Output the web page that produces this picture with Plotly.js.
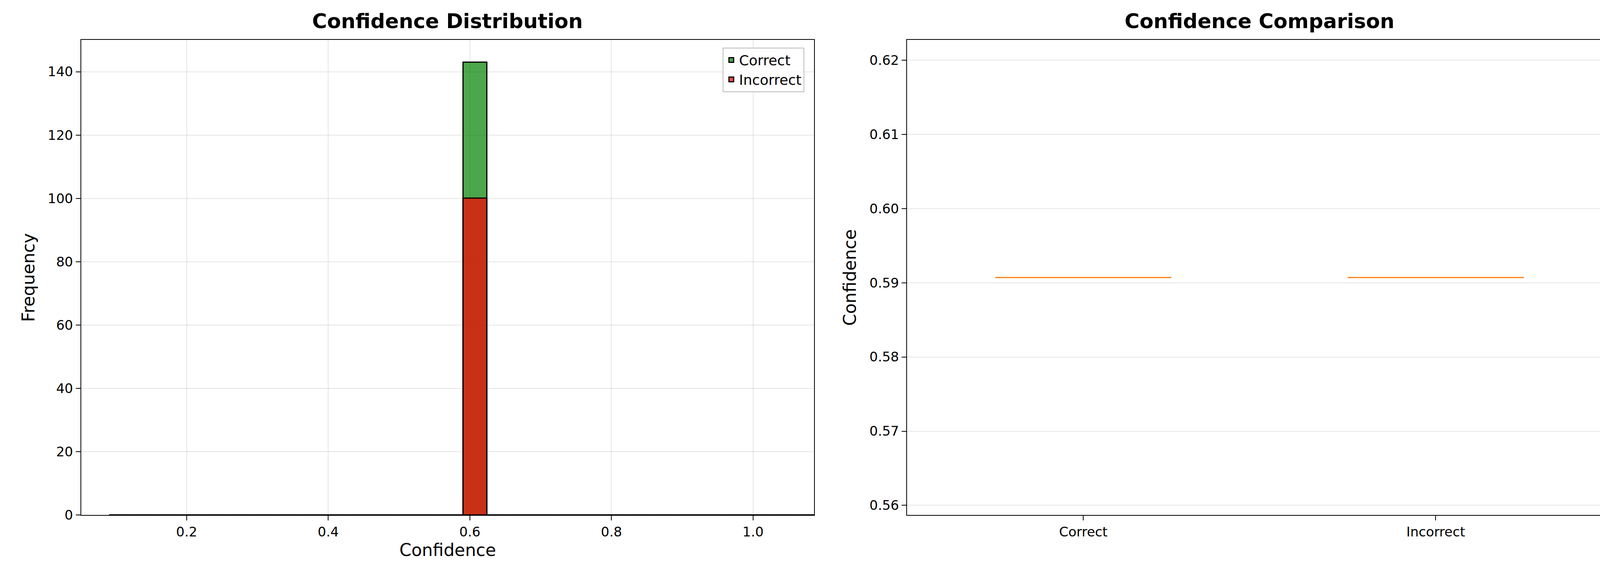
<!DOCTYPE html>
<html>
<head>
<meta charset="utf-8">
<script src="https://cdn.plot.ly/plotly-3.0.1.min.js"></script>
<style>html,body{margin:0;padding:0;background:#fff}</style>
</head>
<body>
<div id="plot" style="width:4164px;height:1464px"></div>
<script>
// histogram bins (30 bins, width 1/30, centred on the mean confidence 0.5907)
const binStart = 0.0907;
const binWidth = 1 / 30;
const correctCounts   = [0,0,0,0,0,0,0,0,0,0,0,0,0,0,0,143,0,0,0,0,0,0,0,0,0,0,0,0,0,0];
const incorrectCounts = [0,0,0,0,0,0,0,0,0,0,0,0,0,0,0,100,0,0,0,0,0,0,0,0,0,0,0,0,0,0];
const binCenters = correctCounts.map((_, i) => binStart + binWidth * (i + 0.5));

// box plot: every value equal, only the median shows
const groups = ['Correct', 'Incorrect'];
const medians = [0.5907, 0.5907];

const font = 'DejaVu Sans, sans-serif';
const tickFont = { family: font, size: 34, color: '#000' };
const grid = 'rgba(0,0,0,0.1)';

const traces = [
    {
        x: binCenters, y: correctCounts, type: 'bar', width: binWidth, name: 'Correct',
        marker: { color: 'rgba(0,128,0,0.7)', line: { color: '#000', width: 3 } },
        xaxis: 'x', yaxis: 'y'
    },
    {
        x: binCenters, y: incorrectCounts, type: 'bar', width: binWidth, name: 'Incorrect',
        marker: { color: 'rgba(255,0,0,0.7)', line: { color: '#000', width: 3 } },
        xaxis: 'x', yaxis: 'y'
    }
];
groups.forEach((g, i) => {
    traces.push({
        x: [i + 1 - 0.25, i + 1 + 0.25], y: [medians[i], medians[i]],
        type: 'scatter', mode: 'lines', showlegend: false,
        line: { color: '#ff7f0e', width: 3 }, xaxis: 'x2', yaxis: 'y2', hoverinfo: 'skip'
    });
});

const axisBase = {
    showline: true, linecolor: '#000', linewidth: 2, mirror: true,
    ticks: 'outside', ticklen: 12, tickwidth: 2, tickcolor: '#000',
    tickfont: tickFont, gridcolor: grid, gridwidth: 2, zeroline: false
};

Plotly.newPlot('plot', traces, {
    width: 4164, height: 1464,
    margin: { l: 0, r: 0, t: 0, b: 0 },
    paper_bgcolor: '#fff', plot_bgcolor: '#fff',
    barmode: 'overlay', bargap: 0,
    font: { family: font },
    xaxis: Object.assign({}, axisBase, {
        domain: [0.0499, 0.5006], anchor: 'y', range: [0.051, 1.0864],
        tickvals: [0.2, 0.4, 0.6, 0.8, 1.0], ticktext: ['0.2', '0.4', '0.6', '0.8', '1.0'],
        title: { text: 'Confidence', font: { family: font, size: 44, color: '#000' }, standoff: 12 }
    }),
    yaxis: Object.assign({}, axisBase, {
        domain: [0.0996, 0.930], anchor: 'x', range: [0, 150],
        tickvals: [0, 20, 40, 60, 80, 100, 120, 140],
        title: { text: 'Frequency', font: { family: font, size: 44, color: '#000' }, standoff: 20 }
    }),
    xaxis2: Object.assign({}, axisBase, {
        domain: [0.5577, 0.991], anchor: 'y2', range: [0.5, 2.5],
        tickvals: [1, 2], ticktext: groups, showgrid: false
    }),
    yaxis2: Object.assign({}, axisBase, {
        domain: [0.0996, 0.930], anchor: 'x2', range: [0.5587, 0.6227],
        tickvals: [0.56, 0.57, 0.58, 0.59, 0.60, 0.61, 0.62],
        ticktext: ['0.56', '0.57', '0.58', '0.59', '0.60', '0.61', '0.62'],
        title: { text: 'Confidence', font: { family: font, size: 44, color: '#000' }, standoff: 20 }
    }),
    legend: {
        x: 0.4945, y: 0.917, xanchor: 'right', yanchor: 'top',
        bgcolor: 'rgba(255,255,255,0.8)', bordercolor: '#bbb', borderwidth: 2,
        font: { family: font, size: 36, color: '#000' }
    },
    annotations: [
        { text: '<b>Confidence Distribution</b>', x: 0.2752, y: 0.963, xref: 'paper', yref: 'paper',
          xanchor: 'center', yanchor: 'middle', showarrow: false, font: { family: font, size: 52, color: '#000' } },
        { text: '<b>Confidence Comparison</b>', x: 0.7743, y: 0.963, xref: 'paper', yref: 'paper',
          xanchor: 'center', yanchor: 'middle', showarrow: false, font: { family: font, size: 52, color: '#000' } }
    ]
}, { displayModeBar: false });
</script>
</body>
</html>
